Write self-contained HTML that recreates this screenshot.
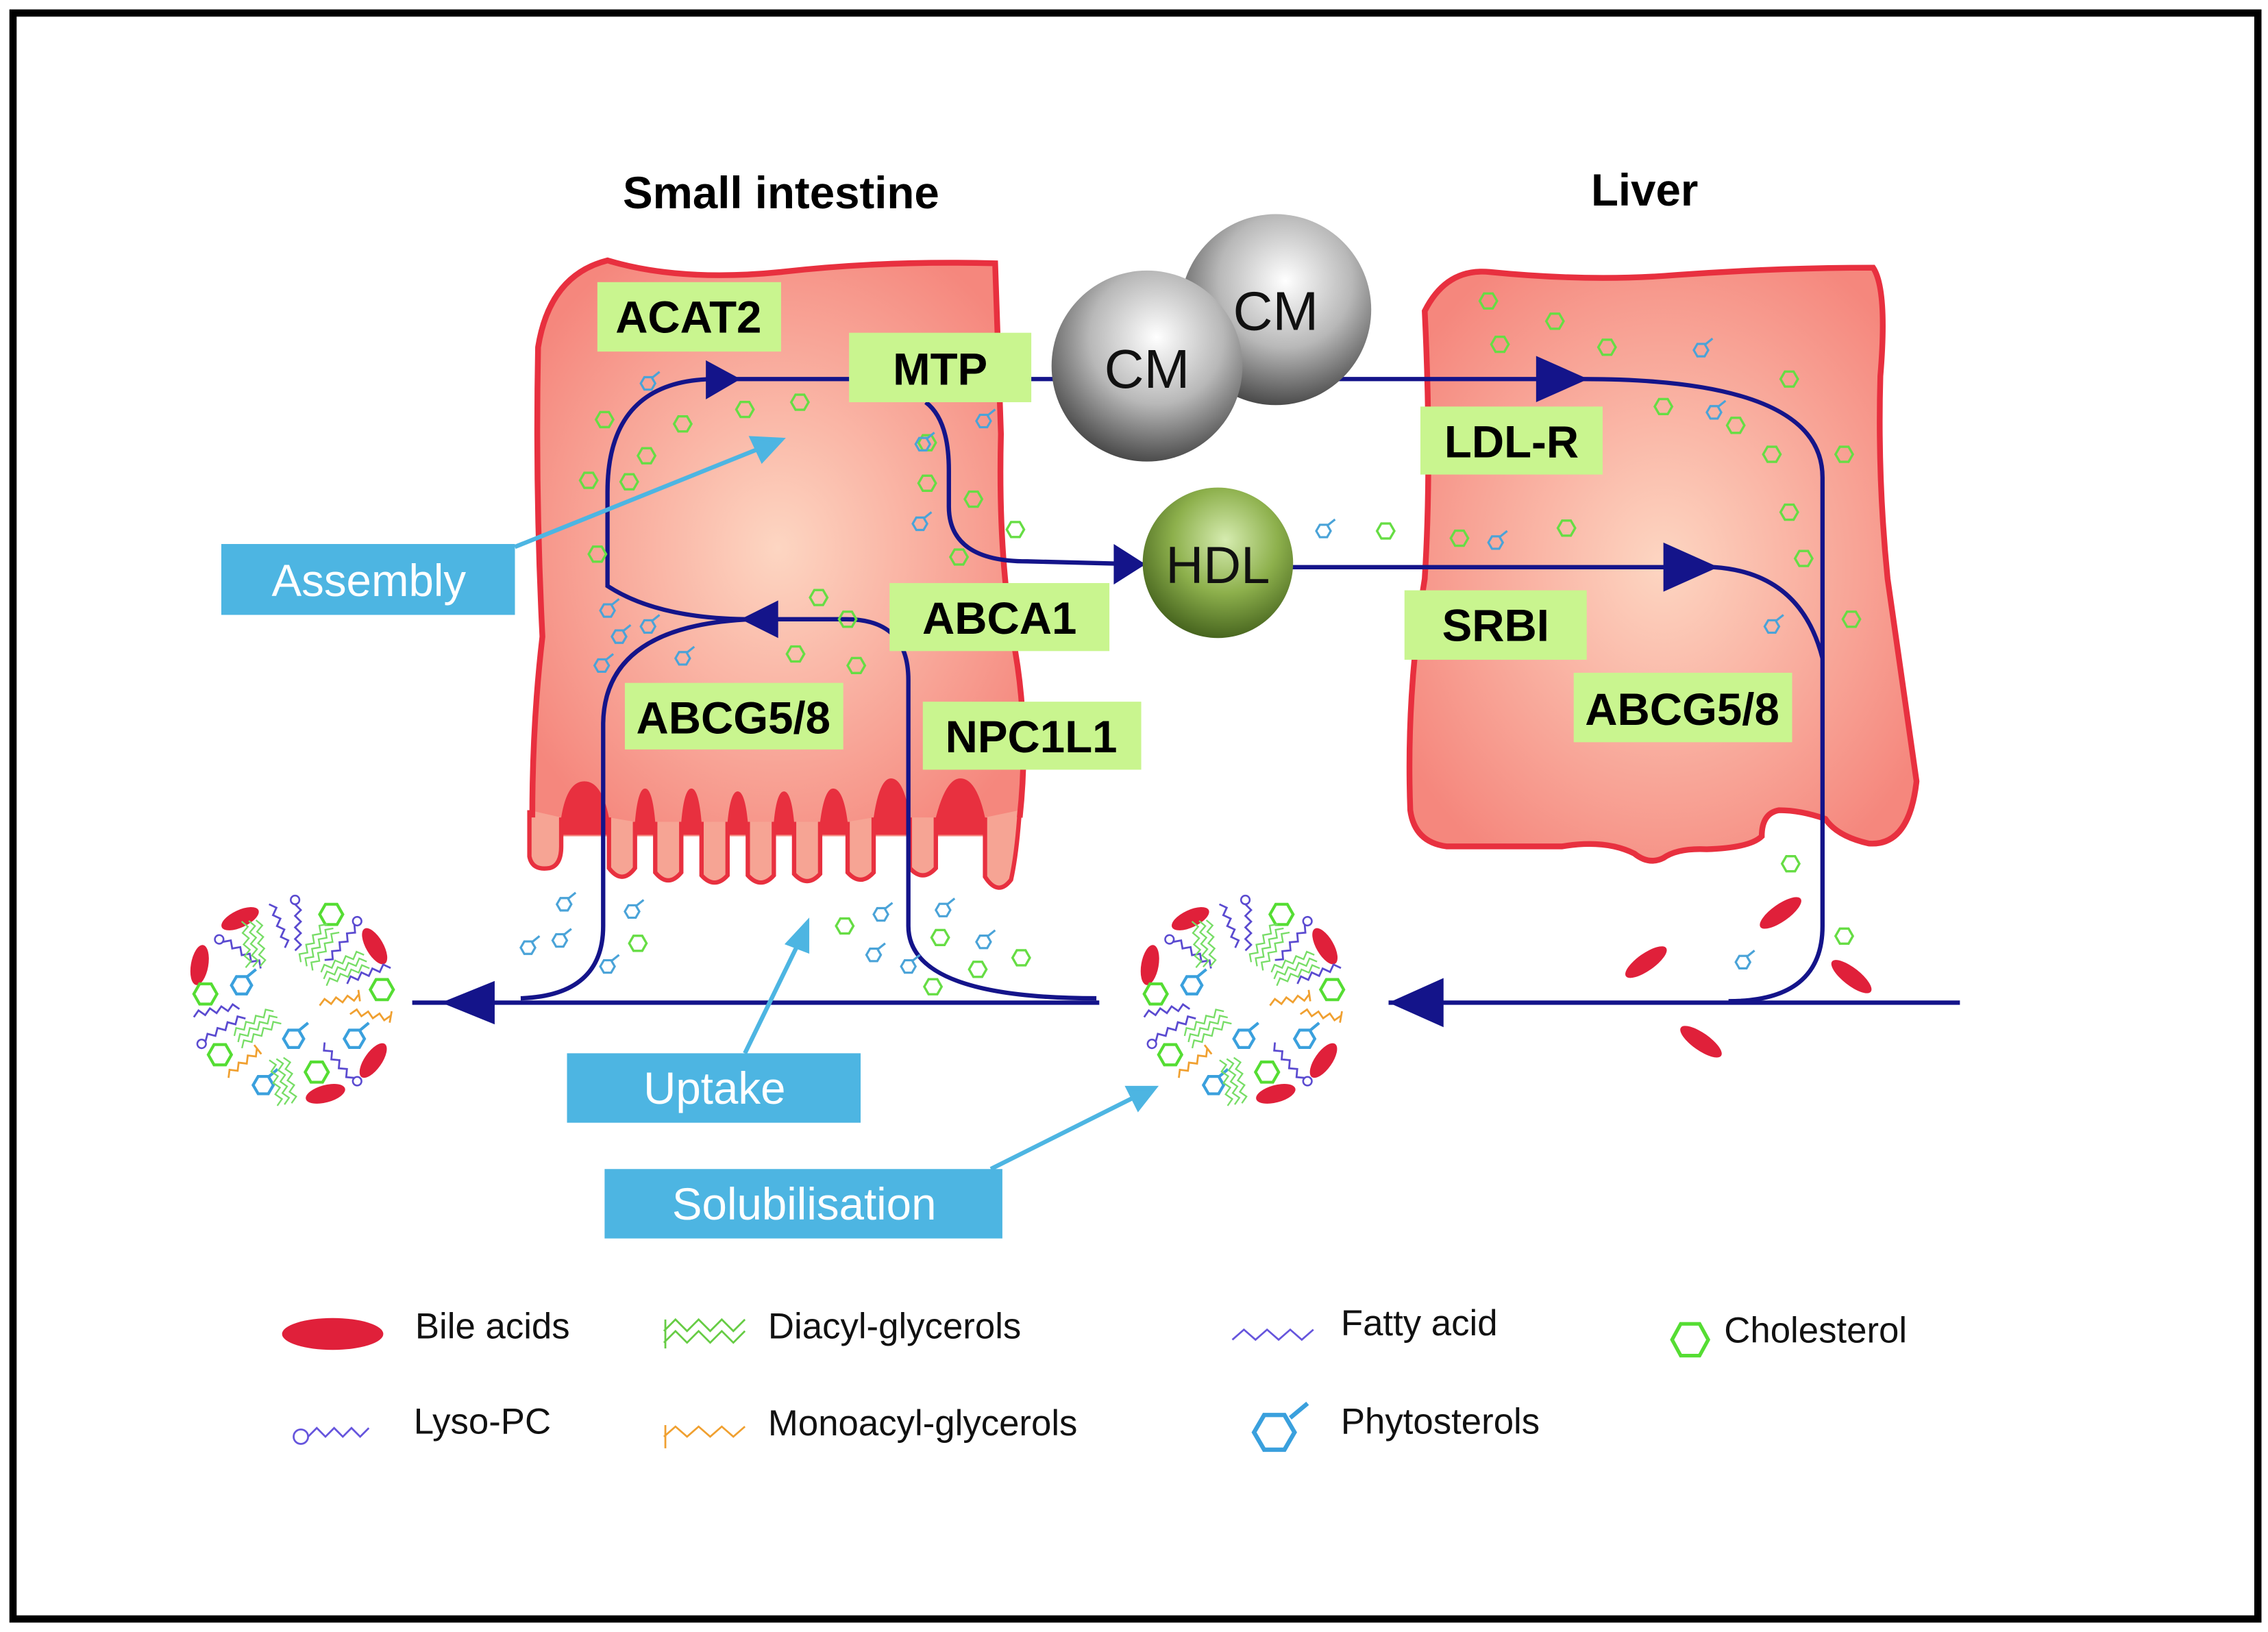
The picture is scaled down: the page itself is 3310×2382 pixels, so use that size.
<!DOCTYPE html>
<html><head><meta charset="utf-8"><style>
html,body{margin:0;padding:0;background:#fff}
svg{display:block}
text{font-family:"Liberation Sans",Arial,sans-serif}
.lb{font-weight:bold;font-size:31px;fill:#000}
.bl{font-size:31px;fill:#fff}
.lg{font-size:25px;fill:#111}
</style></head><body>
<svg width="3310" height="2382" viewBox="0 0 1568 1128" preserveAspectRatio="none" xmlns="http://www.w3.org/2000/svg">
<defs>
<radialGradient id="cell" cx="50%" cy="50%" r="60%"><stop offset="0" stop-color="#fdd6c2"/><stop offset="1" stop-color="#f5877d"/></radialGradient>
<radialGradient id="cm" cx="55%" cy="35%" r="70%"><stop offset="0" stop-color="#ffffff"/><stop offset="0.5" stop-color="#b8b8b8"/><stop offset="1" stop-color="#3a3a3a"/></radialGradient>
<radialGradient id="hdl" cx="55%" cy="35%" r="70%"><stop offset="0" stop-color="#d6ecb0"/><stop offset="0.5" stop-color="#8db04c"/><stop offset="1" stop-color="#3d5a18"/></radialGradient>
<g id="hx"><polygon points="6,0 3,5.2 -3,5.2 -6,0 -3,-5.2 3,-5.2" fill="none" stroke="#66dd44" stroke-width="1.6"/></g>
<g id="HX"><polygon points="8,0 4,7 -4,7 -8,0 -4,-7 4,-7" fill="none" stroke="#55dd33" stroke-width="2"/></g>
<g id="ph"><polygon points="5,0 2.5,4.3 -2.5,4.3 -5,0 -2.5,-4.3 2.5,-4.3" fill="none" stroke="#4aa3d8" stroke-width="1.5"/><line x1="3" y1="-4" x2="8" y2="-8" stroke="#4aa3d8" stroke-width="1.5"/></g>
<g id="PH"><polygon points="7,0 3.5,6 -3.5,6 -7,0 -3.5,-6 3.5,-6" fill="none" stroke="#3aa0dd" stroke-width="2"/><line x1="4" y1="-6" x2="10" y2="-11" stroke="#3aa0dd" stroke-width="2"/></g>
<path id="fa" d="M0 0 l4 -4 4 4 4 -4 4 4 4 -4 4 4 4 -4 4 4" fill="none" stroke="#5a4ad0" stroke-width="1.3"/>
<g id="ly"><circle cx="-3" cy="0" r="3" fill="none" stroke="#5a4ad0" stroke-width="1.2"/><use href="#fa"/></g>
<path id="dg" d="M0 0 l4 -4 4 4 4 -4 4 4 4 -4 4 4 4 -4 4 4 M0 5 l4 -4 4 4 4 -4 4 4 4 -4 4 4 4 -4 4 4 M0 10 l4 -4 4 4 4 -4 4 4 4 -4 4 4 4 -4 4 4" fill="none" stroke="#77dd66" stroke-width="1.1"/>
<path id="mg" d="M0 0 l4 -4 4 4 4 -4 4 4 4 -4 4 4 4 -4 m0 -3 v8" fill="none" stroke="#f0a030" stroke-width="1.3"/>
<g id="mic">
<g fill="#e0203a">
<ellipse cx="166" cy="635" rx="14" ry="6" transform="rotate(-25 166 635)"/>
<ellipse cx="138" cy="667" rx="14" ry="6" transform="rotate(-80 138 667)"/>
<ellipse cx="259" cy="654" rx="14" ry="6" transform="rotate(60 259 654)"/>
<ellipse cx="258" cy="733" rx="14" ry="6" transform="rotate(-55 258 733)"/>
<ellipse cx="225" cy="756" rx="14" ry="6" transform="rotate(-15 225 756)"/>
</g>
<use href="#HX" x="229" y="632"/><use href="#HX" x="142" y="687"/><use href="#HX" x="264" y="684"/><use href="#HX" x="152" y="729"/><use href="#HX" x="219" y="741"/>
<use href="#PH" x="167" y="681"/><use href="#PH" x="203" y="718"/><use href="#PH" x="245" y="718"/><use href="#PH" x="182" y="750"/>
<use href="#ly" transform="translate(154 651) rotate(35)"/>
<use href="#ly" transform="translate(204 625) rotate(90)"/>
<use href="#ly" transform="translate(245 639) rotate(130)"/>
<use href="#ly" transform="translate(142 720) rotate(-30)"/>
<use href="#ly" transform="translate(245 745) rotate(-130)"/>
<use href="#fa" transform="translate(186 625) rotate(70)"/>
<use href="#fa" transform="translate(134 703) rotate(-10)"/>
<use href="#fa" transform="translate(240 680) rotate(-20)"/>
<use href="#dg" transform="translate(177 636) rotate(85)"/>
<use href="#dg" transform="translate(208 665) rotate(-55)"/>
<use href="#dg" transform="translate(222 672) rotate(-22)"/>
<use href="#dg" transform="translate(162 716) rotate(-32)"/>
<use href="#dg" transform="translate(196 731) rotate(80)"/>
<use href="#mg" transform="translate(221 695) rotate(-8)"/>
<use href="#mg" transform="translate(242 701) rotate(10)"/>
<use href="#mg" transform="translate(158 745) rotate(-38)"/>
</g>
</defs>
<rect x="0" y="0" width="1568" height="1128" fill="#fff"/>
<rect x="9" y="9" width="1552" height="1110" fill="none" stroke="#000" stroke-width="5"/>

<text x="540" y="144" text-anchor="middle" class="lb" font-size="31">Small intestine</text>
<text x="1137" y="142" text-anchor="middle" class="lb" font-size="31">Liver</text>

<!-- intestine cell body -->
<path d="M368 578 Q368 500 375 440 Q370 340 372 240 Q380 190 420 180 Q470 195 540 188 Q610 180 688 182 Q690 240 692 300 Q690 380 700 440 Q712 500 705 560 L705 578 Z" fill="url(#cell)"/>
<!-- red flames between villi -->
<g fill="#e8303f">
<path d="M388 577 L388 565 Q392 540 404 540 Q416 540 421 565 L421 577 Z"/>
<path d="M439 577 L439 568 Q441 545 446 545 Q451 545 453 568 L453 577Z"/>
<path d="M471 577 L471 568 Q473 545 478 545 Q483 545 485 568 L485 577Z"/>
<path d="M503 577 L503 568 Q505 547 510 547 Q515 547 517 568 L517 577Z"/>
<path d="M535 577 L535 568 Q537 547 542 547 Q547 547 549 568 L549 577Z"/>
<path d="M567 577 L567 568 Q570 545 576 545 Q583 545 586 568 L586 577Z"/>
<path d="M604 577 L604 565 Q608 538 616 538 Q625 538 629 565 L629 577Z"/>
<path d="M647 577 L647 565 Q654 538 664 538 Q675 538 681 565 L681 577Z"/>
</g>
<!-- villi fingers -->
<g fill="#f6a494" stroke="#e8303f" stroke-width="3">
<path d="M366 560 L366 592 Q368 602 380 600 Q388 598 388 585 L388 565"/>
<path d="M421 565 L421 600 Q430 612 439 600 L439 568"/>
<path d="M453 568 L453 603 Q462 614 471 603 L471 568"/>
<path d="M485 568 L485 605 Q494 615 503 605 L503 568"/>
<path d="M517 568 L517 605 Q526 615 535 605 L535 568"/>
<path d="M549 568 L549 604 Q558 614 567 604 L567 568"/>
<path d="M586 568 L586 603 Q595 613 604 603 L604 565"/>
<path d="M629 565 L629 600 Q638 610 647 600 L647 565"/>
<path d="M681 565 L681 606 Q690 620 699 608 Q703 590 705 560"/>
</g>
<!-- body outline -->
<path d="M368 565 Q368 500 375 440 Q370 340 372 240 Q380 190 420 180 Q470 195 540 188 Q610 180 688 182 Q690 240 692 300 Q690 380 700 440 Q712 500 705 565" fill="none" stroke="#e8303f" stroke-width="4"/>

<!-- liver cell -->
<path d="M985 215 Q1000 185 1030 188 Q1100 195 1160 190 Q1230 185 1295 185 Q1305 200 1300 260 Q1298 330 1305 400 Q1315 470 1325 540 Q1320 585 1292 583 Q1270 578 1262 566 Q1245 560 1230 560 Q1218 562 1218 578 Q1210 586 1180 587 Q1160 586 1150 593 Q1140 598 1130 590 Q1110 580 1080 585 L1000 585 Q978 582 975 560 Q972 480 985 400 Q990 320 985 215 Z" fill="url(#cell)" stroke="#e8303f" stroke-width="4"/>

<!-- connectors -->
<g fill="none" stroke="#14148a" stroke-width="3">
<line x1="760" y1="693" x2="285" y2="693"/>
<line x1="1355" y1="693" x2="960" y2="693"/>
<path d="M758 690 Q628 690 628 640 L628 470 Q628 428 585 428 L520 428"/>
<path d="M520 428 Q455 428 420 405 Q420 380 420 340 Q420 262 495 262 L590 262"/>
<path d="M520 428 Q418 432 417 500 L417 640 Q417 688 360 690"/>
<line x1="712" y1="262" x2="740" y2="262"/>
<line x1="920" y1="262" x2="1095" y2="262"/>
<path d="M1095 262 Q1260 262 1260 330 L1260 640 Q1260 692 1195 692"/>
<path d="M640 278 Q656 290 656 325 L656 350 Q656 388 710 388 L790 390"/>
<line x1="890" y1="392" x2="1185" y2="392"/>
<path d="M1185 392 Q1245 396 1260 455"/>
</g>
<g fill="#14148a">
<polygon points="305,693 342,678 342,708"/>
<polygon points="960,693 998,676 998,710"/>
<polygon points="512,262 488,249 488,276"/>
<polygon points="512,428 538,415 538,441"/>
<polygon points="1098,262 1062,246 1062,278"/>
<polygon points="792,390 770,376 770,404"/>
<polygon points="1188,392 1150,375 1150,409"/>
</g>

<!-- spheres -->
<circle cx="882" cy="214" r="66" fill="url(#cm)"/>
<text x="882" y="228" text-anchor="middle" font-size="38" fill="#111">CM</text>
<circle cx="793" cy="253" r="66" fill="url(#cm)"/>
<text x="793" y="268" text-anchor="middle" font-size="38" fill="#111">CM</text>
<circle cx="842" cy="389" r="52" fill="url(#hdl)"/>
<text x="842" y="403" text-anchor="middle" font-size="36" fill="#111">HDL</text>

<!-- green labels -->
<g fill="#c9f58f">
<rect x="413" y="195" width="127" height="48"/>
<rect x="587" y="230" width="126" height="48"/>
<rect x="615" y="403" width="152" height="47"/>
<rect x="432" y="472" width="151" height="46"/>
<rect x="638" y="485" width="151" height="47"/>
<rect x="982" y="281" width="126" height="47"/>
<rect x="971" y="408" width="126" height="48"/>
<rect x="1088" y="465" width="151" height="48"/>
</g>
<text x="476" y="230" text-anchor="middle" class="lb">ACAT2</text>
<text x="650" y="266" text-anchor="middle" class="lb">MTP</text>
<text x="691" y="438" text-anchor="middle" class="lb">ABCA1</text>
<text x="507" y="507" text-anchor="middle" class="lb">ABCG5/8</text>
<text x="713" y="520" text-anchor="middle" class="lb">NPC1L1</text>
<text x="1045" y="316" text-anchor="middle" class="lb">LDL-R</text>
<text x="1034" y="443" text-anchor="middle" class="lb">SRBI</text>
<text x="1163" y="501" text-anchor="middle" class="lb">ABCG5/8</text>

<!-- blue labels -->
<g fill="#4db5e2">
<rect x="153" y="376" width="203" height="49"/>
<rect x="392" y="728" width="203" height="48"/>
<rect x="418" y="808" width="275" height="48"/>
</g>
<text x="255" y="412" text-anchor="middle" class="bl">Assembly</text>
<text x="494" y="763" text-anchor="middle" class="bl">Uptake</text>
<text x="556" y="843" text-anchor="middle" class="bl">Solubilisation</text>
<g stroke="#4db5e2" stroke-width="3" fill="#4db5e2">
<line x1="356" y1="378" x2="525" y2="310"/><polygon points="540,304 520,303 527,318"/>
<line x1="515" y1="728" x2="552" y2="652"/><polygon points="558,638 545,652 558,657"/>
<line x1="685" y1="808" x2="785" y2="758"/><polygon points="798,752 780,752 787,766"/>
</g>

<!-- micelles -->
<use href="#mic"/>
<use href="#mic" transform="translate(657 0)"/>
<g fill="#e0203a">
<ellipse cx="1231" cy="631" rx="17" ry="6" transform="rotate(-35 1231 631)"/>
<ellipse cx="1138" cy="665" rx="17" ry="6" transform="rotate(-35 1138 665)"/>
<ellipse cx="1280" cy="675" rx="17" ry="6" transform="rotate(38 1280 675)"/>
<ellipse cx="1176" cy="720" rx="17" ry="6" transform="rotate(35 1176 720)"/>
<ellipse cx="230" cy="922" rx="35" ry="11"/>
</g>

<!-- scattered molecules -->
<g>
<use href="#hx" x="418" y="290"/><use href="#hx" x="447" y="315"/><use href="#hx" x="472" y="293"/><use href="#hx" x="515" y="283"/><use href="#hx" x="553" y="278"/>
<use href="#hx" x="407" y="332"/><use href="#hx" x="435" y="333"/><use href="#hx" x="413" y="383"/><use href="#hx" x="566" y="413"/><use href="#hx" x="586" y="428"/>
<use href="#hx" x="550" y="452"/><use href="#hx" x="592" y="460"/><use href="#hx" x="641" y="306"/><use href="#hx" x="641" y="334"/><use href="#hx" x="673" y="345"/>
<use href="#hx" x="663" y="385"/><use href="#hx" x="702" y="366"/><use href="#hx" x="441" y="652"/><use href="#hx" x="584" y="640"/><use href="#hx" x="650" y="648"/>
<use href="#hx" x="706" y="662"/><use href="#hx" x="676" y="670"/><use href="#hx" x="645" y="682"/><use href="#hx" x="958" y="367"/><use href="#hx" x="1009" y="372"/>
<use href="#hx" x="1029" y="208"/><use href="#hx" x="1075" y="222"/><use href="#hx" x="1037" y="238"/><use href="#hx" x="1111" y="240"/><use href="#hx" x="1083" y="365"/>
<use href="#hx" x="1150" y="281"/><use href="#hx" x="1200" y="294"/><use href="#hx" x="1237" y="262"/><use href="#hx" x="1225" y="314"/><use href="#hx" x="1275" y="314"/>
<use href="#hx" x="1237" y="354"/><use href="#hx" x="1247" y="386"/><use href="#hx" x="1280" y="428"/><use href="#hx" x="1238" y="597"/><use href="#hx" x="1275" y="647"/>
<use href="#ph" x="448" y="265"/><use href="#ph" x="680" y="291"/><use href="#ph" x="638" y="307"/><use href="#ph" x="636" y="362"/><use href="#ph" x="420" y="422"/>
<use href="#ph" x="428" y="440"/><use href="#ph" x="448" y="433"/><use href="#ph" x="416" y="460"/><use href="#ph" x="472" y="455"/><use href="#ph" x="390" y="625"/>
<use href="#ph" x="437" y="630"/><use href="#ph" x="365" y="655"/><use href="#ph" x="387" y="650"/><use href="#ph" x="420" y="668"/><use href="#ph" x="609" y="632"/>
<use href="#ph" x="652" y="629"/><use href="#ph" x="604" y="660"/><use href="#ph" x="628" y="668"/><use href="#ph" x="680" y="651"/>
<use href="#ph" x="915" y="367"/><use href="#ph" x="1034" y="375"/><use href="#ph" x="1176" y="242"/>
<use href="#ph" x="1185" y="285"/><use href="#ph" x="1225" y="433"/><use href="#ph" x="1205" y="665"/>
</g>

<!-- legend -->
<text x="287" y="925" class="lg">Bile acids</text>
<path d="M459 920 l8-8 8 8 8-8 8 8 8-8 8 8 8-8 M459 928 l8-8 8 8 8-8 8 8 8-8 8 8 8-8 M460 912 v20" stroke="#66cc44" stroke-width="1.3" fill="none"/>
<text x="531" y="925" class="lg">Diacyl-glycerols</text>
<path d="M852 926 l8-7 8 7 8-7 8 7 8-7 8 7 8-7" stroke="#6655dd" stroke-width="1.3" fill="none"/>
<text x="927" y="923" class="lg">Fatty acid</text>
<polygon points="1181,926 1175,937 1162,937 1156,926 1162,915 1175,915" fill="none" stroke="#55dd33" stroke-width="2.5"/>
<text x="1192" y="928" class="lg">Cholesterol</text>
<circle cx="208" cy="993" r="5" fill="none" stroke="#6655dd" stroke-width="1.3"/>
<path d="M213 993 l6-6 6 6 6-6 6 6 6-6 6 6 6-6" stroke="#6655dd" stroke-width="1.3" fill="none"/>
<text x="286" y="991" class="lg">Lyso-PC</text>
<path d="M459 993 l8-7 8 7 8-7 8 7 8-7 8 7 8-7 M460 985 v16" stroke="#f0a030" stroke-width="1.3" fill="none"/>
<text x="531" y="992" class="lg">Monoacyl-glycerols</text>
<polygon points="895,990 888,1002 874,1002 867,990 874,978 888,978" fill="none" stroke="#3aa0dd" stroke-width="3"/>
<line x1="892" y1="980" x2="904" y2="970" stroke="#3aa0dd" stroke-width="3"/>
<text x="927" y="991" class="lg">Phytosterols</text>
</svg>
</body></html>
